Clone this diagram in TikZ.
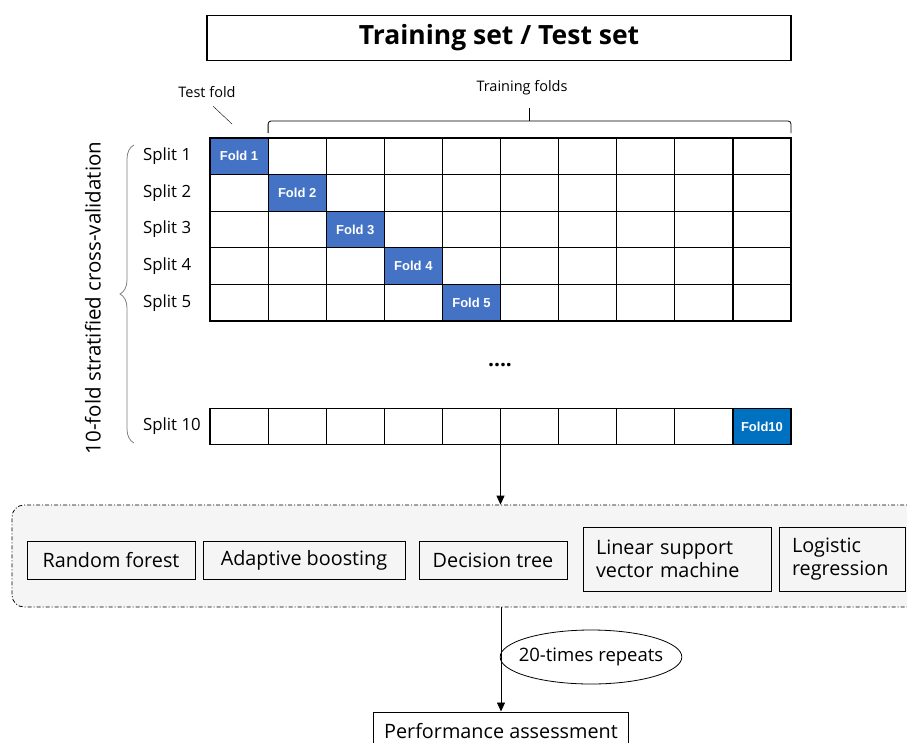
\documentclass[tikz,border=0pt]{standalone}
\usepackage{fontspec}
\setmainfont{Open Sans}
\newfontfamily\arialfont{Liberation Sans}
\usepackage{tikz}
\usetikzlibrary{calc}
\usetikzlibrary{positioning}
\usetikzlibrary{shapes.geometric}
\usetikzlibrary{arrows.meta}
\usetikzlibrary{decorations.pathreplacing}
\definecolor{foldblue}{HTML}{4472C4}
\definecolor{lastblue}{HTML}{0070C0}
\definecolor{panelgray}{HTML}{F5F5F5}
\tikzstyle{gcell}=[draw,line width=1.2pt,minimum width=58.1pt,minimum height=36.6pt,inner sep=0,outer sep=0]
\tikzstyle{foldbox}=[gcell,fill=foldblue,text=white,font=\arialfont\bfseries\fontsize{13}{15}\selectfont]
\tikzstyle{splitlbl}=[anchor=west,inner sep=0,font=\fontsize{16.8}{19}\selectfont]
\tikzstyle{algo}=[draw,line width=1pt,inner sep=0,minimum height=38pt,font=\fontsize{19.8}{23.5}\selectfont]
\tikzstyle{algo2}=[algo,minimum height=64pt,align=left]
\tikzstyle{hit}=[-{Triangle[length=9pt,width=8pt]},line width=0.8pt]
\begin{document}
\begin{tikzpicture}[x=1pt,y=-1pt]
\clip (0,0) rectangle (907,742);
\fill[white] (0,0) rectangle (907,742);
\node[draw,line width=1.2pt,minimum width=584pt,minimum height=45pt,font=\bfseries\fontsize{26.5}{30}\selectfont] (title) at (499,38) {Training set / Test set};
\node at (207,92)[font=\fontsize{14.5}{17}\selectfont] (testlbl) {Test fold};
\node at (522,88)[font=\fontsize{14.5}{17}\selectfont] (trainlbl) {Training folds};
\foreach \r in {1,...,5}
{
\node at (143,{138+36.6*(\r-0.5)})[splitlbl] (sp\r) {Split \r};
\foreach \c in {1,...,10}
\node at ({210+58.1*(\c-0.5)},{138+36.6*(\r-0.5)})[gcell] (c-\r-\c) {};
\node at (c-\r-\r)[foldbox] {Fold \r};
}
\node at (143,426.5)[splitlbl] (sp10) {Split 10};
\foreach \c in {1,...,10}
\node at ({210+58.1*(\c-0.5)},426.5)[gcell] (s10-\c) {};
\node at (s10-10)[foldbox,fill=lastblue] {Fold10};
\node at (500,365)[font=\bfseries\fontsize{21}{24}\selectfont] (dots) {....};
\coordinate (tfend) at (232,124);
\draw ([xshift=6pt,yshift=-5pt]testlbl.south) -- (tfend);
\draw[line width=0.8pt,rounded corners=3pt] ([yshift=5pt]c-1-2.north west) -- ([yshift=17pt]c-1-2.north west) -- ([yshift=17pt]c-1-10.north east) -- ([yshift=5pt]c-1-10.north east);
\draw[line width=0.8pt] ($(c-1-2.north west)!0.5!(c-1-10.north east)+(0,-17)$) -- ($(c-1-2.north west)!0.5!(c-1-10.north east)+(0,-30)$);
\draw[gray,line width=0.8pt,decorate,decoration={brace,amplitude=14pt}] (134,443) -- (134,145);
\node at (93,298)[rotate=90,font=\fontsize{20.5}{23}\selectfont] (cvlabel) {10-fold stratified cross-validation};
\node at (468.5,556)[draw,dash pattern=on 4pt off 2pt on 1pt off 2pt,line width=0.8pt,rounded corners=12pt,fill=panelgray,minimum width=913pt,minimum height=102pt] (panel) {};
\node at (111,560)[algo,minimum width=168pt] (rf) {Random forest};
\node at (304,560)[algo,minimum width=202pt] (ada) {Adaptive boosting};
\node at (493,560)[algo,minimum width=148pt] (dt) {Decision tree};
\node at (677,559)[algo2,text width=162pt,inner xsep=13pt] (svm) {Linear support\\vector machine};
\node at (842,559)[algo2,text width=100pt,inner xsep=13pt] (lr) {Logistic\\regression};
\node at (501,731)[algo,minimum width=255pt] (perf) {Performance assessment};
\node at (591,657)[ellipse,draw,line width=0.8pt,minimum height=54pt,inner xsep=-8pt,inner ysep=0,font=\fontsize{18.5}{22}\selectfont] (rep) {20-times repeats};
\draw[hit] (s10-5.south east) -- (s10-5.south east |- panel.north);
\draw[hit] (panel.south -| perf.north) -- (perf.north);
\end{tikzpicture}
\end{document}
